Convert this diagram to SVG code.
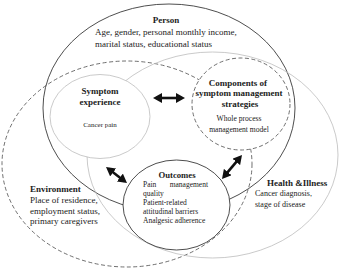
<svg xmlns="http://www.w3.org/2000/svg" width="343" height="271" viewBox="0 0 343 271">
<style>
  .bg { fill:#ffffff; }
  .solid { fill:none; stroke:#3a3a3a; stroke-width:0.9; }
  .gray { fill:none; stroke:#bdbdbd; stroke-width:0.8; }
  .dash { fill:none; stroke:#4a4a4a; stroke-width:0.8; stroke-dasharray:4 2.5; }
  .inner { fill:#ffffff; }
  text { font-family:"Liberation Serif","Times New Roman",serif; fill:#222222; }
  .h { font-weight:bold; font-size:9px; }
  .hc { font-weight:bold; font-size:9px; text-anchor:middle; }
  .b9 { font-size:9px; }
  .b8 { font-size:8px; }
  .b75 { font-size:7.5px; }
  .c75 { font-size:7.6px; text-anchor:middle; }
  .c7 { font-size:7px; text-anchor:middle; }
  .arrow { stroke:#111111; stroke-width:2.6; fill:none; marker-start:url(#head); marker-end:url(#head); }
</style>
<defs>
  <marker id="head" markerUnits="userSpaceOnUse" markerWidth="9" markerHeight="10" refX="6" refY="5" orient="auto-start-reverse">
    <path d="M0,0 L9,5 L0,10 z" fill="#111111"/>
  </marker>
</defs>
<rect class="bg" x="0" y="0" width="343" height="271"/>

<g id="person">
  <ellipse class="solid" cx="169" cy="108" rx="126" ry="104"/>
  <text class="hc" x="166" y="23">Person</text>
  <text class="b9" x="95" y="34.5">Age, gender, personal monthly income,</text>
  <text class="b9" x="95" y="47">marital status, educational status</text>
</g>

<g id="environment">
  <ellipse class="dash" cx="127" cy="164" rx="125" ry="103"/>
  <text class="h" x="30" y="192">Environment</text>
  <text class="b9" x="30" y="203">Place of residence,</text>
  <text class="b9" x="30" y="213.5">employment status,</text>
  <text class="b9" x="30" y="224">primary caregivers</text>
</g>

<g id="health-illness">
  <ellipse class="gray" cx="212.5" cy="155" rx="125.5" ry="103"/>
  <text class="h" x="267" y="185.5">Health &amp;Illness</text>
  <text class="b8" x="255" y="196">Cancer diagnosis,</text>
  <text class="b8" x="255" y="207">stage of disease</text>
</g>

<g id="symptom-experience">
  <ellipse class="inner" cx="100" cy="116.5" rx="50" ry="42"/>
  <ellipse class="gray" cx="100" cy="116.5" rx="50" ry="42"/>
  <text class="hc" x="100" y="93.5">Symptom</text>
  <text class="hc" x="100" y="105">experience</text>
  <text class="c7" x="100" y="127">Cancer pain</text>
</g>

<g id="components">
  <ellipse class="inner" cx="241" cy="104" rx="49" ry="46"/>
  <ellipse class="dash" cx="241" cy="104" rx="49" ry="46"/>
  <text class="hc" x="238" y="85.5">Components of</text>
  <text class="hc" x="239" y="96">symptom management</text>
  <text class="hc" x="240" y="106.5">strategies</text>
  <text class="c75" x="239" y="120.5">Whole process</text>
  <text class="c75" x="239" y="132">management model</text>
</g>

<g id="outcomes">
  <ellipse class="inner" cx="176.5" cy="205" rx="53.5" ry="45"/>
  <ellipse class="solid" cx="176.5" cy="205" rx="53.5" ry="45"/>
  <text class="hc" x="177" y="177.5" style="font-size:8.7px">Outcomes</text>
  <text class="b75" y="186.5"><tspan x="143">Pain</tspan><tspan x="208" text-anchor="end">management</tspan></text>
  <text class="b75" x="143" y="195.5">quality</text>
  <text class="b75" x="143" y="205">Patient-related</text>
  <text class="b75" x="143" y="214">attitudinal barriers</text>
  <text class="b75" x="143" y="223">Analgesic adherence</text>
</g>

<g id="connectors">
  <line class="arrow" x1="156" y1="98" x2="182" y2="98"/>
  <line class="arrow" x1="108.4" y1="168.8" x2="124.6" y2="181.2"/>
  <line class="arrow" x1="240.1" y1="157.3" x2="223.9" y2="176.7"/>
</g>
</svg>
